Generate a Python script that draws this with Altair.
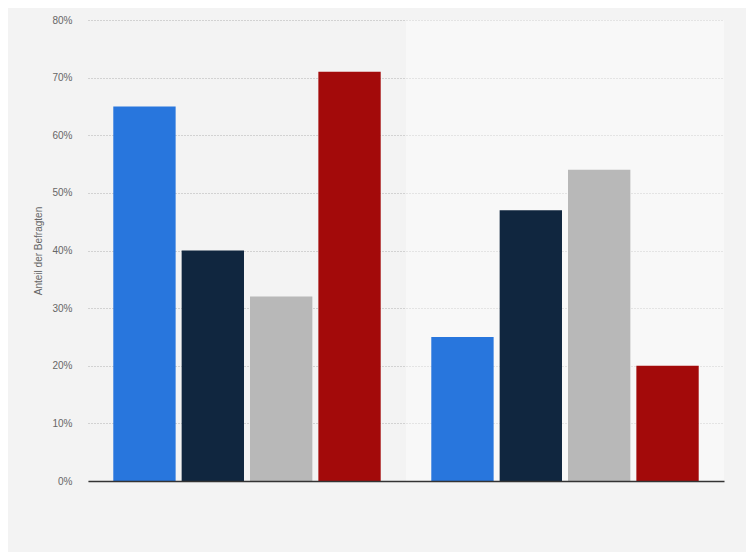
import altair as alt
import pandas as pd

groups = ["Gruppe A", "Gruppe B"]
series = ["Kategorie 1", "Kategorie 2", "Kategorie 3", "Kategorie 4"]
values_a = [65, 40, 32, 71]
values_b = [25, 47, 54, 20]
colors = ["#2876dd", "#10263f", "#b8b8b8", "#a30a0a"]
y_ticks = [0, 10, 20, 30, 40, 50, 60, 70, 80]

rows = []
for g, vals in zip(groups, [values_a, values_b]):
    for s, v in zip(series, vals):
        rows.append({"group": g, "series": s, "value": v})
df = pd.DataFrame(rows)
band_df = pd.DataFrame({"group": [groups[1]]})

x_enc = alt.X("group:N", sort=groups,
              scale=alt.Scale(paddingInner=0, paddingOuter=0),
              axis=alt.Axis(labels=False, ticks=False, title=None, domain=True,
                            domainColor="#333333", domainWidth=1.5, grid=False))
y_scale = alt.Scale(domain=[0, 80], nice=False)

band = alt.Chart(band_df).mark_rect(color="#ffffff", opacity=0.4).encode(
    x=x_enc,
    y=alt.datum(80, scale=y_scale),
    y2=alt.datum(0),
)

bars = alt.Chart(df).mark_bar().encode(
    x=x_enc,
    xOffset=alt.XOffset("series:N", sort=series,
                        scale=alt.Scale(paddingInner=0.088, paddingOuter=0.37)),
    y=alt.Y("value:Q", scale=y_scale,
            axis=alt.Axis(values=y_ticks, labelExpr="datum.value + '%'",
                          title="Anteil der Befragten", ticks=False, domain=False,
                          grid=True, gridColor="#b0b0b0", gridDash=[1, 2],
                          labelPadding=16, titlePadding=8)),
    color=alt.Color("series:N", sort=series,
                    scale=alt.Scale(domain=series, range=colors), legend=None),
)

chart = alt.layer(band, bars).properties(
    width=636, height=461,
    background="#f3f3f3",
    padding={"left": 80, "top": 12, "right": 22, "bottom": 71},
    autosize=alt.AutoSizeParams(type="none"),
).configure_view(stroke=None, fill="#f3f3f3").configure_axis(
    labelFont="Liberation Sans", labelFontSize=10, labelColor="#666666",
    titleFont="Liberation Sans", titleFontSize=10, titleColor="#666666",
    titleFontWeight="normal",
)

chart.save("out.html", embed_options={"renderer": "svg", "actions": False})
